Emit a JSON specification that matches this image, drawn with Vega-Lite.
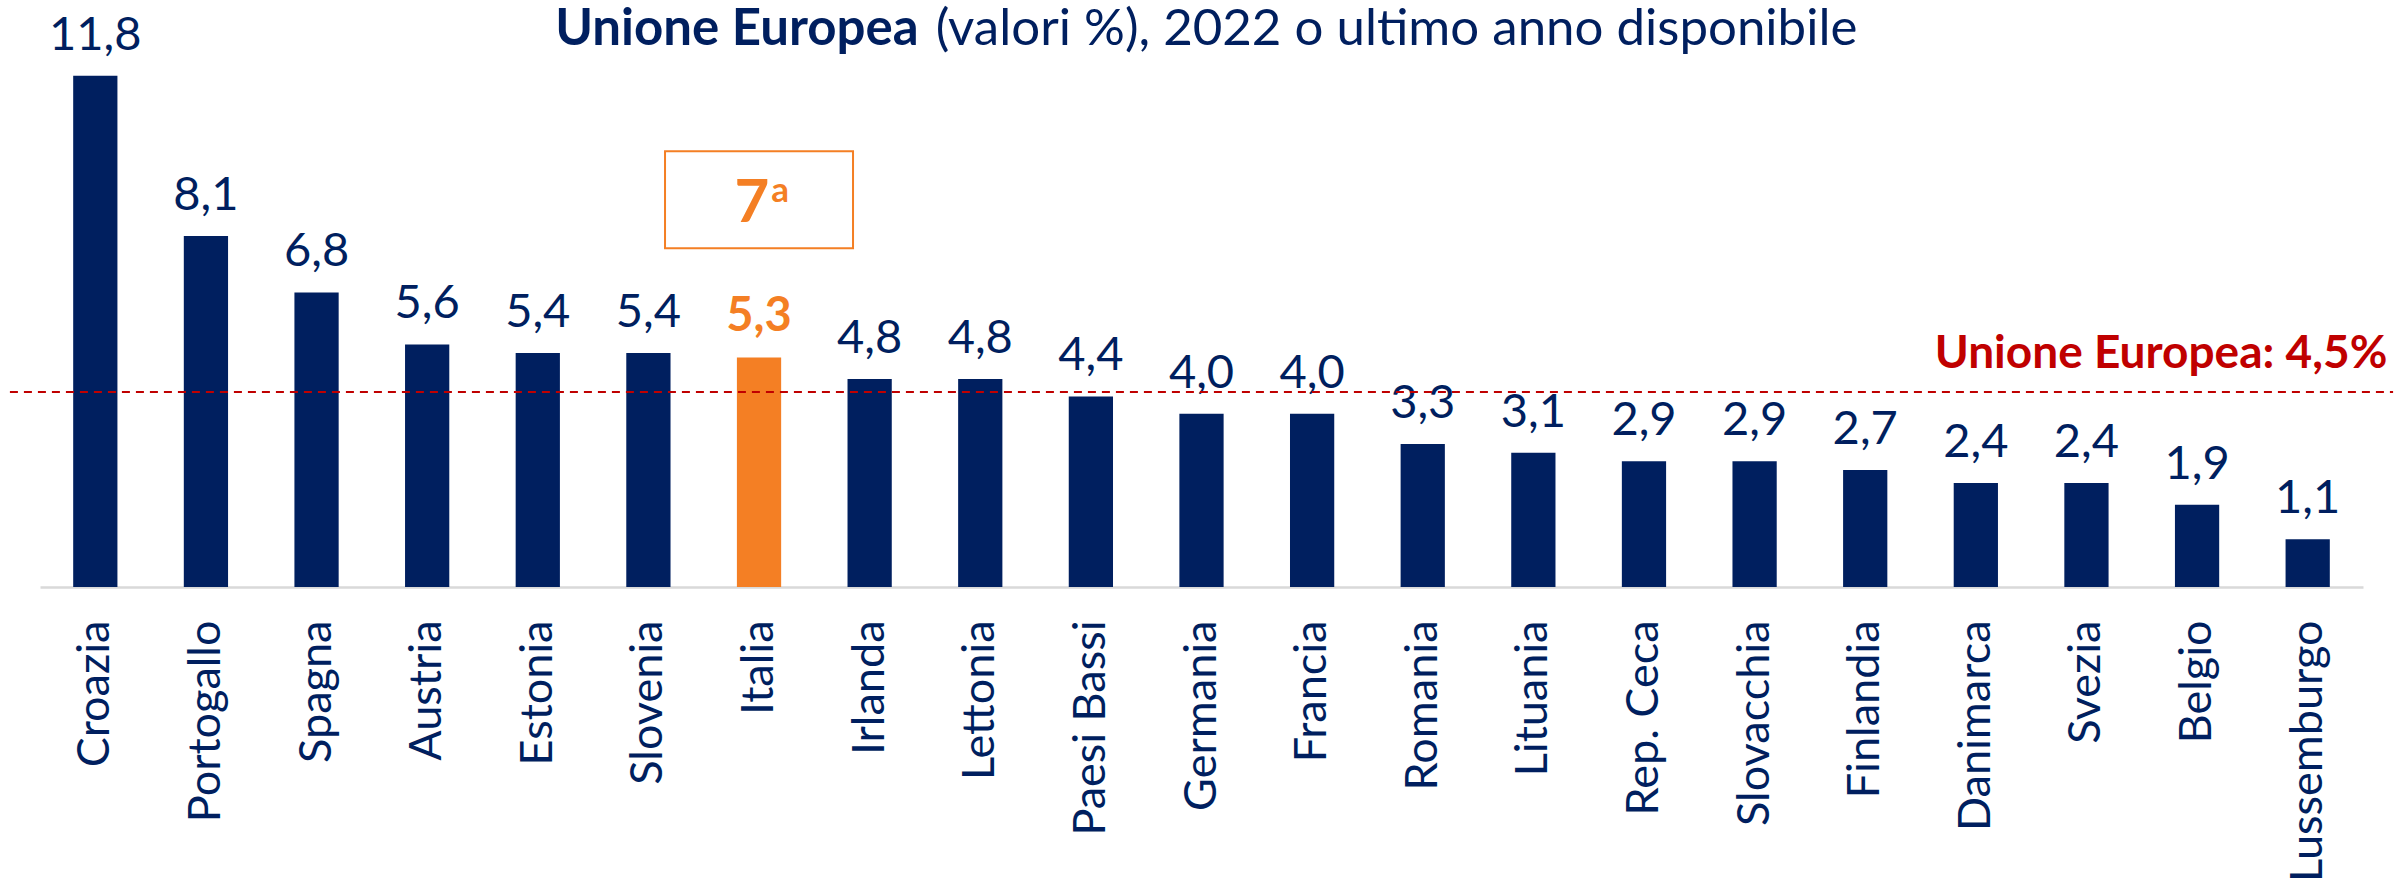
{
  "$schema": "https://vega.github.io/schema/vega-lite/v6.json",
  "width": 2323,
  "height": 587,
  "autosize": {"type": "none"},
  "padding": {"left": 40, "top": 0, "right": 34, "bottom": 302},
  "background": "white",
  "config": {
    "view": {"stroke": null},
    "font": "Lato",
    "locale": {"number": {"decimal": ",", "thousands": ".", "grouping": [3], "currency": ["", " €"]}}
  },
  "data": {
    "values": [
      {"paese": "Croazia", "valore": 11.8, "gruppo": "altro"},
      {"paese": "Portogallo", "valore": 8.1, "gruppo": "altro"},
      {"paese": "Spagna", "valore": 6.8, "gruppo": "altro"},
      {"paese": "Austria", "valore": 5.6, "gruppo": "altro"},
      {"paese": "Estonia", "valore": 5.4, "gruppo": "altro"},
      {"paese": "Slovenia", "valore": 5.4, "gruppo": "altro"},
      {"paese": "Italia", "valore": 5.3, "gruppo": "Italia"},
      {"paese": "Irlanda", "valore": 4.8, "gruppo": "altro"},
      {"paese": "Lettonia", "valore": 4.8, "gruppo": "altro"},
      {"paese": "Paesi Bassi", "valore": 4.4, "gruppo": "altro"},
      {"paese": "Germania", "valore": 4.0, "gruppo": "altro"},
      {"paese": "Francia", "valore": 4.0, "gruppo": "altro"},
      {"paese": "Romania", "valore": 3.3, "gruppo": "altro"},
      {"paese": "Lituania", "valore": 3.1, "gruppo": "altro"},
      {"paese": "Rep. Ceca", "valore": 2.9, "gruppo": "altro"},
      {"paese": "Slovacchia", "valore": 2.9, "gruppo": "altro"},
      {"paese": "Finlandia", "valore": 2.7, "gruppo": "altro"},
      {"paese": "Danimarca", "valore": 2.4, "gruppo": "altro"},
      {"paese": "Svezia", "valore": 2.4, "gruppo": "altro"},
      {"paese": "Belgio", "valore": 1.9, "gruppo": "altro"},
      {"paese": "Lussemburgo", "valore": 1.1, "gruppo": "altro"}
    ]
  },
  "layer": [
    {
      "mark": {"type": "bar"},
      "encoding": {
        "x": {
          "field": "paese", "type": "nominal", "sort": null,
          "scale": {"paddingInner": 0.6, "paddingOuter": 0.3},
          "axis": {
            "title": null, "labelAngle": -90, "ticks": false,
            "domainColor": "#D9D9D9", "domainWidth": 2.5,
            "labelFont": "Lato", "labelFontSize": 45, "labelColor": "#001F5F",
            "labelPadding": 33, "labelAlign": "right", "labelBaseline": "middle",
            "labelLimit": 0, "labelOverlap": false
          }
        },
        "y": {
          "field": "valore", "type": "quantitative",
          "scale": {"domain": [0, 13.55], "nice": false, "zero": true},
          "axis": null
        },
        "color": {
          "field": "gruppo", "type": "nominal",
          "scale": {"domain": ["altro", "Italia"], "range": ["#001F5F", "#F47F24"]},
          "legend": null
        }
      }
    },
    {
      "transform": [{"filter": "datum.gruppo !== 'Italia'"}],
      "mark": {"type": "text", "baseline": "alphabetic", "dy": -26, "fontSize": 47, "color": "#001F5F", "font": "Lato"},
      "encoding": {
        "x": {"field": "paese", "type": "nominal", "sort": null},
        "y": {"field": "valore", "type": "quantitative", "axis": null},
        "text": {"field": "valore", "type": "quantitative", "format": ".1f"}
      }
    },
    {
      "transform": [{"filter": "datum.gruppo === 'Italia'"}],
      "mark": {"type": "text", "baseline": "alphabetic", "dy": -26, "fontSize": 47, "fontWeight": "bold", "color": "#F47F24", "font": "Lato"},
      "encoding": {
        "x": {"field": "paese", "type": "nominal", "sort": null},
        "y": {"field": "valore", "type": "quantitative", "axis": null},
        "text": {"field": "valore", "type": "quantitative", "format": ".1f"}
      }
    },
    {
      "data": {"values": [{"media": 4.5}]},
      "mark": {"type": "rule", "color": "#C00000", "strokeWidth": 2, "strokeDash": [8, 6]},
      "encoding": {
        "x": {"datum": "Croazia", "type": "nominal", "bandPosition": -1.43},
        "x2": {"datum": "Lussemburgo", "bandPosition": 2.43},
        "y": {"field": "media", "type": "quantitative", "axis": null}
      }
    },
    {
      "data": {"values": [{"media": 4.5, "etichetta": "Unione Europea: 4,5%"}]},
      "mark": {"type": "text", "align": "right", "baseline": "alphabetic", "dy": -24, "fontSize": 46, "fontWeight": "bold", "color": "#C00000", "font": "Lato"},
      "encoding": {
        "x": {"datum": "Lussemburgo", "type": "nominal", "bandPosition": 2.3},
        "y": {"field": "media", "type": "quantitative", "axis": null},
        "text": {"field": "etichetta"}
      }
    },
    {
      "data": {"values": [{"alto": 10.06, "basso": 7.82}]},
      "mark": {"type": "bar", "width": 188, "fillOpacity": 0, "stroke": "#F47F24", "strokeWidth": 2},
      "encoding": {
        "x": {"datum": "Italia", "type": "nominal"},
        "y": {"field": "alto", "type": "quantitative", "axis": null},
        "y2": {"field": "basso"}
      }
    },
    {
      "data": {"values": [{"t": "7", "pos": 8.43}]},
      "mark": {"type": "text", "align": "center", "baseline": "alphabetic", "dx": -7, "fontSize": 60, "fontWeight": "bold", "color": "#F47F24", "font": "Lato"},
      "encoding": {
        "x": {"datum": "Italia", "type": "nominal"},
        "y": {"field": "pos", "type": "quantitative", "axis": null},
        "text": {"field": "t"}
      }
    },
    {
      "data": {"values": [{"t": "a", "pos": 8.43}]},
      "mark": {"type": "text", "align": "center", "baseline": "alphabetic", "dx": 21, "dy": -20, "fontSize": 35, "fontWeight": "bold", "color": "#F47F24", "font": "Lato"},
      "encoding": {
        "x": {"datum": "Italia", "type": "nominal"},
        "y": {"field": "pos", "type": "quantitative", "axis": null},
        "text": {"field": "t"}
      }
    },
    {
      "data": {"values": [{"t": "Unione Europea", "pos": 12.52}]},
      "mark": {"type": "text", "align": "right", "baseline": "alphabetic", "dx": 49, "fontSize": 51, "fontWeight": "bold", "color": "#001F5F", "font": "Lato"},
      "encoding": {
        "x": {"datum": "Irlanda", "type": "nominal"},
        "y": {"field": "pos", "type": "quantitative", "axis": null},
        "text": {"field": "t"}
      }
    },
    {
      "data": {"values": [{"t": "(valori %), 2022 o ultimo anno disponibile", "pos": 12.52}]},
      "mark": {"type": "text", "align": "left", "baseline": "alphabetic", "dx": 66, "fontSize": 51, "color": "#001F5F", "font": "Lato"},
      "encoding": {
        "x": {"datum": "Irlanda", "type": "nominal"},
        "y": {"field": "pos", "type": "quantitative", "axis": null},
        "text": {"field": "t"}
      }
    }
  ]
}
